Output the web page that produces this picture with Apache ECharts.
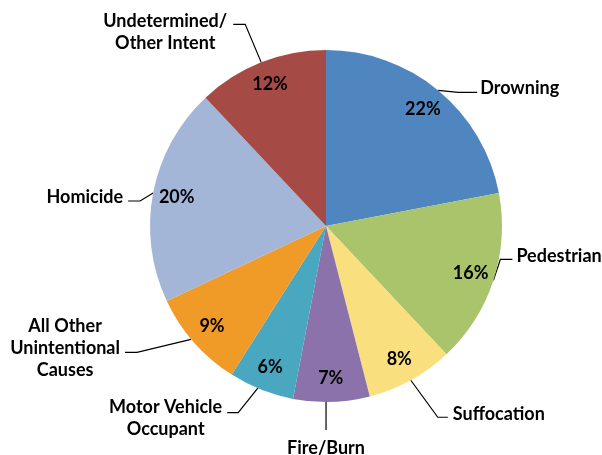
<!DOCTYPE html>
<html>
<head>
<meta charset="utf-8">
<script src="https://cdn.jsdelivr.net/npm/echarts@6/dist/echarts.min.js"></script>
<style>html,body{margin:0;padding:0;background:#fff;}#c{width:602px;height:455px;}</style>
</head>
<body>
<div id="c"></div>
<script>
// ---- data ----
const categories = ['Drowning', 'Pedestrian', 'Suffocation', 'Fire/Burn', 'Motor Vehicle\nOccupant',
  'All Other\nUnintentional\nCauses', 'Homicide', 'Undetermined/\nOther Intent'];
const values = [22, 16, 8, 7, 6, 9, 20, 12];

// ---- styles ----
const colors = ['#4F86C0', '#A9C46B', '#FADF7E', '#8B72AB', '#49A7BF', '#F09A28', '#A3B6D8', '#A64A45'];
const CX = 326, CY = 226, R = 176;
// leader line style per label: elbow offset from edge, horizontal run, text side, text offset
const leader = [
  {e: [20, 2], h: 19, s: 1, g: 3, ty: -4},
  {e: [7, -21], h: 12, s: 1, g: 4, ty: -3},
  {e: [27, 37], h: 10, s: 1, g: 5, ty: -3},
  {st: [-5.5, 0], e: [-5.5, 28], h: 0, s: 0, g: 7, ty: 0},
  {st: [-3, -2], e: [-23, 23], h: -11, s: -1, g: 5, ty: 6},
  {st: [-3, -3], e: [-57, 10], h: -12, s: -1, g: 5, ty: -4},
  {e: [-13, 8], h: -12, s: -1, g: 5, ty: -4},
  {e: [-16, -38], h: -12, s: -1, g: 6, ty: 8}
];
const FONT = 'Lato';

const total = values.reduce((a, b) => a + b, 0);
function edgePoint(i) {
  let cum = 0;
  for (let k = 0; k < i; k++) cum += values[k];
  const a = (cum + values[i] / 2) / total * 2 * Math.PI;
  return [CX + R * Math.sin(a), CY - R * Math.cos(a)];
}

const chart = echarts.init(document.getElementById('c'), null, {renderer: 'canvas'});
chart.setOption({
  backgroundColor: '#ffffff',
  animation: false,
  color: colors,
  series: [
    {
      type: 'pie',
      center: [CX, CY],
      radius: [0, R],
      startAngle: 90,
      clockwise: true,
      avoidLabelOverlap: false,
      itemStyle: {borderWidth: 0},
      data: categories.map((n, i) => ({name: n, value: values[i]})),
      label: {
        show: true, position: 'outside', formatter: '{b}',
        fontFamily: FONT, fontWeight: 'bold', fontSize: 18, color: '#000', lineHeight: 22
      },
      labelLine: {show: true, length: 10, length2: 10, lineStyle: {color: '#000', width: 1.2}},
      labelLayout: function (p) {
        const i = p.dataIndex;
        const L = leader[i];
        const ed = edgePoint(i);
        const st = L.st ? [ed[0] + L.st[0], ed[1] + L.st[1]] : ed;
        const el = [ed[0] + L.e[0], ed[1] + L.e[1]];
        const en = [el[0] + L.h, el[1]];
        const w = p.labelRect.width, hgt = p.labelRect.height;
        let x, y;
        if (L.s === 0) { x = en[0]; y = en[1] + L.g + hgt / 2; }
        else { x = en[0] + L.s * (L.g + w / 2); y = en[1] + L.ty; }
        return {x: x, y: y, align: 'center', verticalAlign: 'middle',
          labelLinePoints: [st, el, en]};
      }
    },
    {
      type: 'pie',
      center: [CX, CY],
      radius: [122, R],
      startAngle: 90,
      clockwise: true,
      silent: true,
      itemStyle: {color: 'rgba(0,0,0,0)', borderWidth: 0},
      data: categories.map((n, i) => ({name: n, value: values[i]})),
      label: {
        show: true, position: 'inside', formatter: '{c}%',
        fontFamily: FONT, fontWeight: 'bold', fontSize: 18, color: '#000'
      },
      labelLine: {show: false}
    }
  ]
});
</script>
</body>
</html>
